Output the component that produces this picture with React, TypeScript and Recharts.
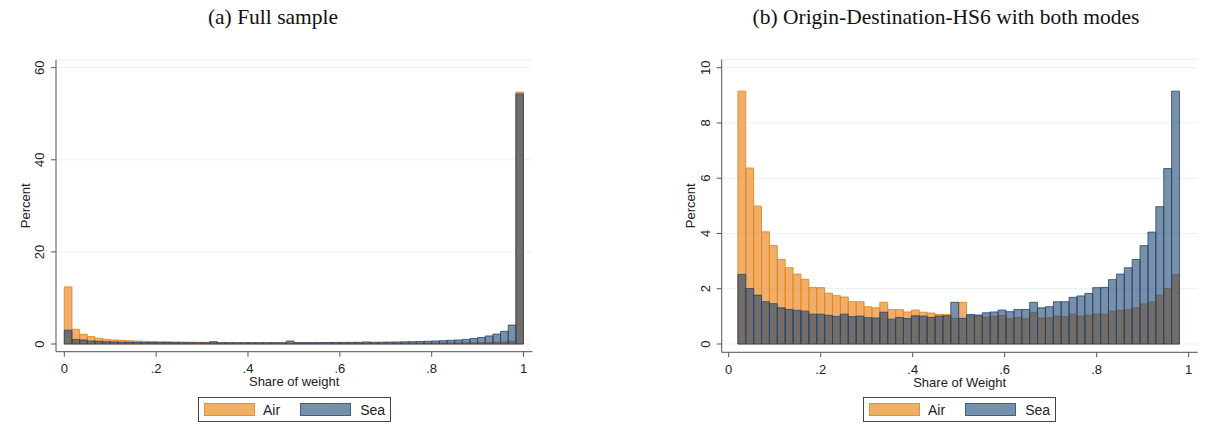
import { ComposedChart, Bar, XAxis, YAxis, CartesianGrid } from "recharts";

// (a) full sample: 60 bins on [0, 1]
const FULL_AIR = [
  12.4, 3.2, 2.1, 1.6, 1.25, 1.0, 0.87, 0.78, 0.7, 0.64,
  0.58, 0.54, 0.5, 0.47, 0.45, 0.42, 0.4, 0.38, 0.36, 0.34,
  0.3, 0.28, 0.26, 0.25, 0.24, 0.23, 0.22, 0.22, 0.21, 0.2,
  0.22, 0.2, 0.2, 0.19, 0.19, 0.19, 0.18, 0.18, 0.18, 0.18,
  0.18, 0.18, 0.19, 0.19, 0.19, 0.2, 0.2, 0.2, 0.21, 0.22,
  0.23, 0.24, 0.26, 0.28, 0.3, 0.33, 0.38, 0.45, 0.6, 54.7,
];
const FULL_SEA = [
  3.0, 1.0, 0.87, 0.65, 0.6, 0.5, 0.45, 0.4, 0.37, 0.35,
  0.33, 0.32, 0.3, 0.3, 0.29, 0.28, 0.28, 0.27, 0.27, 0.5,
  0.27, 0.27, 0.27, 0.28, 0.28, 0.28, 0.28, 0.29, 0.29, 0.65,
  0.3, 0.3, 0.31, 0.32, 0.33, 0.34, 0.35, 0.36, 0.37, 0.45,
  0.38, 0.4, 0.42, 0.44, 0.47, 0.5, 0.55, 0.6, 0.65, 0.72,
  0.8, 0.87, 1.0, 1.18, 1.42, 1.75, 2.15, 2.75, 4.1, 54.3,
];
const FULL_BIN_START = 0;
const FULL_BIN_WIDTH = 1 / 60;

// (b) origin-destination-HS6 with both modes: 56 bins on [.02, .98]
const BOTH_AIR = [
  9.15, 6.37, 4.99, 4.06, 3.56, 3.06, 2.76, 2.53, 2.34, 2.05,
  2.04, 1.84, 1.75, 1.7, 1.53, 1.53, 1.35, 1.31, 1.51, 1.25,
  1.24, 1.16, 1.23, 1.15, 1.12, 1.07, 1.07, 0.93, 1.51, 1.03,
  1.02, 0.97, 1.01, 1.03, 0.92, 0.96, 0.91, 1.15, 0.94, 0.95,
  1.01, 0.99, 1.08, 1.01, 1.04, 1.08, 1.08, 1.19, 1.22, 1.25,
  1.31, 1.45, 1.52, 1.77, 2.01, 2.51,
];
const BOTH_SEA = [
  2.52, 2.01, 1.77, 1.53, 1.46, 1.31, 1.25, 1.22, 1.19, 1.08,
  1.08, 1.04, 1.0, 1.08, 0.99, 1.01, 0.95, 0.94, 1.15, 0.9,
  0.96, 0.92, 1.02, 1.01, 0.96, 1.01, 1.02, 1.51, 0.93, 1.07,
  1.05, 1.13, 1.16, 1.23, 1.17, 1.25, 1.25, 1.51, 1.31, 1.35,
  1.53, 1.53, 1.69, 1.74, 1.83, 2.04, 2.05, 2.33, 2.53, 2.76,
  3.06, 3.56, 4.05, 4.97, 6.35, 9.15,
];
const BOTH_BIN_START = 0.02;
const BOTH_BIN_WIDTH = 0.96 / 56;

const X_TICKS = [0, 0.2, 0.4, 0.6, 0.8, 1];
const Y_TICKS_FULL = [0, 20, 40, 60];
const Y_TICKS_BOTH = [0, 2, 4, 6, 8, 10];

const SANS = "'Liberation Sans', Arial, Helvetica, sans-serif";
const SERIF = "'Liberation Serif', 'Times New Roman', serif";
const AXIS = "#555";
const TEXT = "#222";
const AIR_FILL = "rgba(232,130,26,0.65)";
const AIR_LINE = "rgba(228,135,30,0.9)";
const SEA_FILL = "rgba(20,60,105,0.57)";
const SEA_LINE = "rgba(35,70,110,0.8)";
const Y_AXIS_W = 46;
const X_AXIS_H = 60;

type Row = { x: number; air: number; sea: number };

function toRows(air: number[], sea: number[], start: number, width: number): Row[] {
  return air.map((a, i) => ({ x: start + width * (i + 0.5), air: a, sea: sea[i] }));
}

const fmtX = (v: number) => (v === 0 || v === 1 ? String(v) : String(v).replace(/^0/, ""));

function YTick(props: any) {
  const { x, y, payload } = props;
  return (
    <text
      x={x}
      y={y}
      transform={`rotate(-90 ${x} ${y})`}
      textAnchor="middle"
      dominantBaseline="central"
      fontSize={13}
      fontFamily={SANS}
      fill={TEXT}
    >
      {payload.value}
    </text>
  );
}

type PanelProps = {
  rows: Row[];
  binWidth: number;
  width: number;
  height: number;
  margin: { top: number; right: number; bottom: number; left: number };
  xDomain: [number, number];
  yDomain: [number, number];
  yTicks: number[];
  xLabel: string;
};

function Panel({ rows, binWidth, width, height, margin, xDomain, yDomain, yTicks, xLabel }: PanelProps) {
  const plotW = width - margin.left - margin.right - Y_AXIS_W;
  const barSize = (plotW * binWidth) / (xDomain[1] - xDomain[0]) - 0.02;
  return (
    <ComposedChart width={width} height={height} data={rows} margin={margin} barGap={0} barCategoryGap={0}>
      <CartesianGrid xAxisId="air" vertical={false} stroke="#e8f0f1" />
      <XAxis
        xAxisId="air"
        type="number"
        dataKey="x"
        domain={xDomain}
        allowDataOverflow
        ticks={X_TICKS}
        tickFormatter={fmtX}
        height={X_AXIS_H}
        tickSize={5}
        tickMargin={7}
        stroke={AXIS}
        tick={{ fill: TEXT, fontSize: 13, fontFamily: SANS }}
        label={{ value: xLabel, position: "center", fontSize: 13, fill: TEXT, fontFamily: SANS }}
      />
      <XAxis xAxisId="sea" type="number" dataKey="x" domain={xDomain} allowDataOverflow hide />
      <YAxis
        type="number"
        domain={yDomain}
        allowDataOverflow
        ticks={yTicks}
        width={Y_AXIS_W}
        tickSize={5}
        tickMargin={11}
        stroke={AXIS}
        tick={<YTick />}
        label={{
          value: "Percent",
          angle: -90,
          position: "insideLeft",
          offset: 15,
          fontSize: 13,
          fill: TEXT,
          fontFamily: SANS,
          style: { textAnchor: "middle" },
        }}
      />
      <Bar
        xAxisId="air"
        dataKey="air"
        barSize={barSize}
        fill={AIR_FILL}
        stroke={AIR_LINE}
        strokeWidth={1}
        isAnimationActive={false}
      />
      <Bar
        xAxisId="sea"
        dataKey="sea"
        barSize={barSize}
        fill={SEA_FILL}
        stroke={SEA_LINE}
        strokeWidth={1}
        isAnimationActive={false}
      />
    </ComposedChart>
  );
}

function Legend({ left }: { left: number }) {
  const swatch = (bg: string, line: string, ml: number) => (
    <span
      style={{
        display: "inline-block",
        marginLeft: ml,
        width: 51,
        height: 13,
        boxSizing: "border-box",
        background: bg,
        border: `1px solid ${line}`,
      }}
    />
  );
  return (
    <div
      style={{
        position: "absolute",
        left,
        top: 397,
        width: 193,
        height: 25,
        boxSizing: "border-box",
        border: "1px solid #444",
        display: "flex",
        alignItems: "center",
        fontFamily: SANS,
        fontSize: 14,
        color: TEXT,
        background: "#fff",
      }}
    >
      {swatch("#edb064", "#e8922e", 5)}
      <span style={{ marginLeft: 8 }}>Air</span>
      {swatch("#7590ab", "#3e6189", 20)}
      <span style={{ marginLeft: 9 }}>Sea</span>
    </div>
  );
}

function Title({ center, text }: { center: number; text: string }) {
  return (
    <div
      style={{
        position: "absolute",
        left: center - 250,
        width: 500,
        top: 5,
        lineHeight: "24px",
        textAlign: "center",
        fontFamily: SERIF,
        fontSize: 21.5,
        color: "#111",
      }}
    >
      {text}
    </div>
  );
}

export default function App() {
  const fullRows = toRows(FULL_AIR, FULL_SEA, FULL_BIN_START, FULL_BIN_WIDTH);
  const bothRows = toRows(BOTH_AIR, BOTH_SEA, BOTH_BIN_START, BOTH_BIN_WIDTH);
  return (
    <div style={{ position: "absolute", left: 0, top: 0, width: 1208, height: 439, background: "#fff" }}>
      <div style={{ position: "absolute", left: 0, top: 0 }}>
        <Panel
          rows={fullRows}
          binWidth={FULL_BIN_WIDTH}
          width={600}
          height={439}
          margin={{ top: 60, right: 67.7, bottom: 27.3, left: 10 }}
          xDomain={[-0.0181, 1.0191]}
          yDomain={[-1.672, 61.67]}
          yTicks={Y_TICKS_FULL}
          xLabel="Share of weight"
        />
      </div>
      <div style={{ position: "absolute", left: 600, top: 0 }}>
        <Panel
          rows={bothRows}
          binWidth={BOTH_BIN_WIDTH}
          width={608}
          height={439}
          margin={{ top: 59.3, right: 10.3, bottom: 26.7, left: 75.7 }}
          xDomain={[-0.0152, 1.0196]}
          yDomain={[-0.3, 10.304]}
          yTicks={Y_TICKS_BOTH}
          xLabel="Share of Weight"
        />
      </div>
      <Title center={273} text="(a) Full sample" />
      <Title center={946} text="(b) Origin-Destination-HS6 with both modes" />
      <Legend left={198} />
      <Legend left={863} />
    </div>
  );
}
